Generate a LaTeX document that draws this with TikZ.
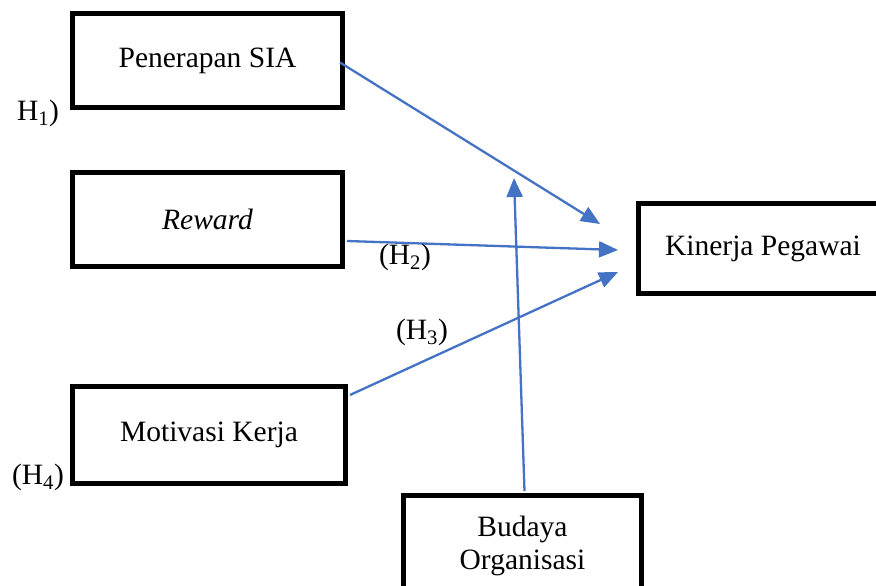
\documentclass[tikz,border=0pt]{standalone}
\usepackage{fontspec}
\setmainfont{Liberation Serif}
\usetikzlibrary{arrows.meta}

\begin{document}
\begin{tikzpicture}[x=1pt, y=-1pt,
  font=\fontsize{29.5}{33}\selectfont,
  block/.style={rectangle, draw, line width=5pt, minimum width=270pt, minimum height=94pt,
                align=center, inner sep=0pt},
  link/.style={draw={rgb,255:red,68;green,114;blue,196}, line width=2.3pt,
               -{Triangle[length=19pt,width=16pt]}}]
  \clip (0,0) rectangle (876,586);
  \node[block] (sia) at (207.5,60.5) {Penerapan SIA};
  \node[block] (rew) at (207.5,219) {\textit{Reward}};
  \node[block, minimum width=273pt, minimum height=97pt] (mot) at (209,435) {Motivasi Kerja};
  \node[block, minimum width=249pt, minimum height=90pt] (kin) at (763,248.5) {Kinerja Pegawai};
  \node[block, minimum width=238pt, minimum height=100pt] (bud) at (522.5,545.5)
       {Budaya\\Organisasi};
  \coordinate (t1) at (600,224);
  \coordinate (t2) at (618,250);
  \coordinate (t3) at (618,272);
  \coordinate (t4) at (514,178);
  \draw[link] ([xshift=-5pt,yshift=-2pt]sia.east) -- (t1);
  \draw[link] ([xshift=2pt,yshift=-22pt]rew.east) -- (t2);
  \draw[link] ([xshift=2pt,yshift=-11pt]mot.north east) -- (t3);
  \draw[link] ([xshift=2pt,yshift=2pt]bud.north) -- (t4);
  \node (h1) at (38,113) {H\textsubscript{1})};
  \node (h2) at (405,257) {(H\textsubscript{2})};
  \node (h3) at (422,332) {(H\textsubscript{3})};
  \node (h4) at (38,477) {(H\textsubscript{4})};
\end{tikzpicture}
\end{document}
